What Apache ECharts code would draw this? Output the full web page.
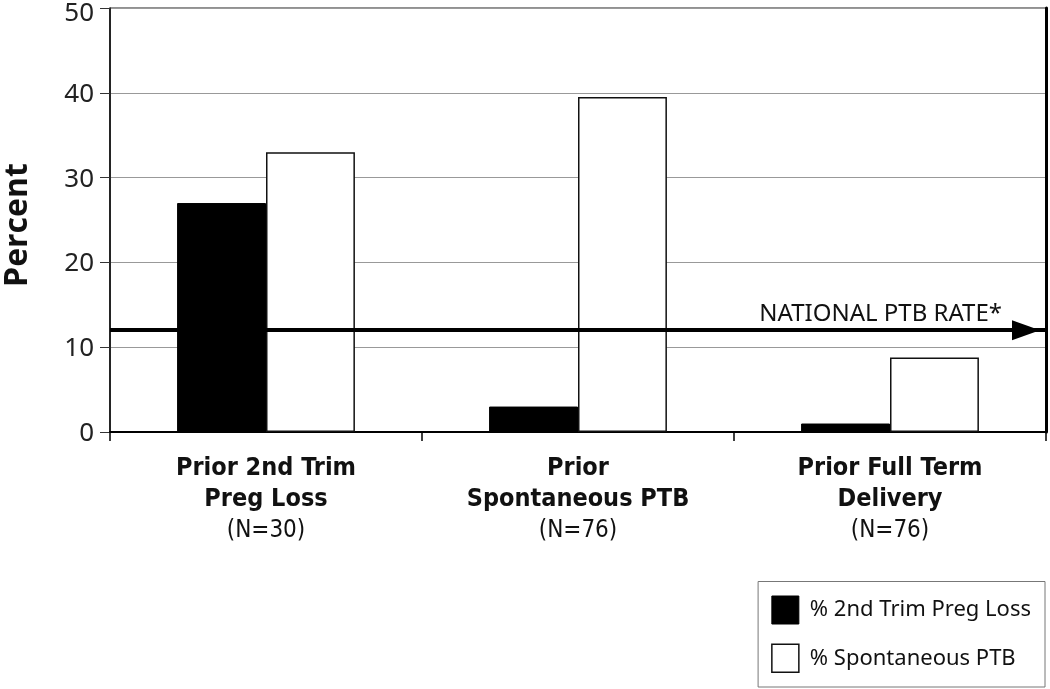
<!DOCTYPE html>
<html>
<head>
<meta charset="utf-8">
<script src="https://cdn.jsdelivr.net/npm/echarts@6/dist/echarts.min.js"></script>
<style>html,body{margin:0;padding:0;background:#fff}#c{width:1050px;height:689px}</style>
</head>
<body>
<div id="c"></div>
<script>
const categories = ['Prior 2nd Trim\nPreg Loss', 'Prior\nSpontaneous PTB', 'Prior Full Term\nDelivery'];
const sampleSizes = ['(N=30)', '(N=76)', '(N=76)'];
const seriesNames = ['% 2nd Trim Preg Loss', '% Spontaneous PTB'];
const pregLoss = [27, 3, 1];
const spontaneousPTB = [33, 39.5, 8.8];
const nationalRate = 12;
const nationalLabel = 'NATIONAL PTB RATE*';
const yTicks = { min: 0, max: 50, interval: 10 };

const chart = echarts.init(document.getElementById('c'));
const condensed = '"Liberation Sans Narrow", "DejaVu Sans Condensed", "Roboto Condensed", sans-serif';
chart.setOption({
  animation: false,
  backgroundColor: '#fff',
  grid: { left: 110, right: 4, top: 8, bottom: 257, outerBoundsMode: 'none', containLabel: false,
          show: true, borderColor: '#222', borderWidth: 1, backgroundColor: 'transparent' },
  legend: {
    orient: 'vertical', right: 5, bottom: 2,
    borderColor: '#777', borderWidth: 1,
    padding: [14, 14, 14, 13],
    itemWidth: 27, itemHeight: 28, itemGap: 19,
    icon: 'rect',
    textStyle: { fontFamily: '"Noto Sans", sans-serif', fontSize: 22, color: '#111', padding: [0, 0, 0, 6] },
    data: [
      { name: seriesNames[0], itemStyle: { color: '#000', borderColor: '#000', borderWidth: 1 } },
      { name: seriesNames[1], itemStyle: { color: '#fff', borderColor: '#111', borderWidth: 1.5 } }
    ]
  },
  xAxis: {
    type: 'category',
    data: categories,
    axisLine: { lineStyle: { color: '#000', width: 2 } },
    axisTick: { show: true, length: 9, lineStyle: { color: '#000', width: 1.5 } },
    axisLabel: {
      margin: 21,
      interval: 0,
      formatter: function (v, i) {
        return v.split('\n').map(s => '{b|' + s + '}').join('\n') + '\n{n|' + sampleSizes[i] + '}';
      },
      rich: {
        b: { fontFamily: condensed, fontWeight: 'bold', fontSize: 25, lineHeight: 31, color: '#111' },
        n: { fontFamily: condensed, fontSize: 24, lineHeight: 31, color: '#111' }
      }
    }
  },
  yAxis: [{
    type: 'value', min: yTicks.min, max: yTicks.max, interval: yTicks.interval,
    name: 'Percent', nameLocation: 'middle', nameRotate: 90, nameGap: 76,
    nameTextStyle: { fontFamily: '"Open Sans", sans-serif', fontWeight: 'bold', fontSize: 32, color: '#111', padding: [0, 10, 0, 0] },
    axisLine: { show: true, lineStyle: { color: '#000', width: 1.5 } },
    axisTick: { show: true, length: 10, lineStyle: { color: '#333', width: 1 } },
    axisLabel: {
      margin: 16,
      formatter: function (v) { return v === yTicks.max ? '{m|' + v + '}' : '{d|' + v + '}'; },
      rich: {
        m: { fontFamily: '"Noto Sans", sans-serif', fontSize: 26, color: '#222', padding: [12, 0, 0, 0] },
        d: { fontFamily: '"Noto Sans", sans-serif', fontSize: 26, color: '#222', padding: [3, 0, 0, 0] }
      }
    },
    splitLine: { show: true, lineStyle: { color: '#999', width: 1 } }
  }, {
    type: 'value', min: yTicks.min, max: yTicks.max, interval: yTicks.interval, position: 'right',
    axisLine: { show: true, lineStyle: { color: '#000', width: 3 } },
    axisTick: { show: false }, axisLabel: { show: false }, splitLine: { show: false }
  }],
  series: [{
    name: seriesNames[0], type: 'bar', data: pregLoss,
    barGap: '0%', barCategoryGap: '43%',
    itemStyle: { color: '#000', borderColor: '#000', borderWidth: 1 }
  }, {
    name: seriesNames[1], type: 'bar', data: spontaneousPTB,
    barGap: '0%', barCategoryGap: '43%',
    itemStyle: { color: '#fff', borderColor: '#111', borderWidth: 1.5 },
    markLine: {
      silent: true, z: 10,
      symbol: ['none', 'triangle'], symbolSize: [20, 28], symbolOffset: [0, [0, 20]],
      lineStyle: { color: '#000', width: 4, type: 'solid' },
      label: {
        show: true, position: 'insideEndTop', formatter: nationalLabel,
        fontFamily: '"Noto Sans", sans-serif', fontSize: 24, color: '#111', distance: [44, 4]
      },
      data: [{ yAxis: nationalRate }]
    }
  }]
});
</script>
</body>
</html>
